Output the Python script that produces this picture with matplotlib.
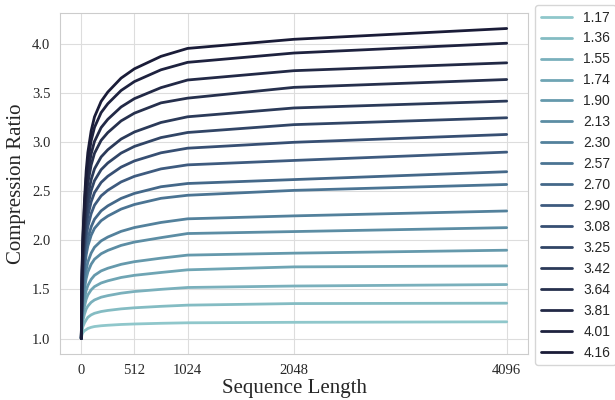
import matplotlib
matplotlib.use("Agg")
import matplotlib.pyplot as plt
import seaborn as sns

# sequence lengths sampled
seq_len = [1, 8, 16, 32, 48, 64, 96, 128, 192, 256, 384, 512, 768, 1024, 2048, 4096]

# compression ratio curves (label = final ratio)
r117 = [1.00, 1.04, 1.06, 1.08, 1.09, 1.102, 1.114, 1.122, 1.130, 1.135, 1.143, 1.148, 1.155, 1.16, 1.165, 1.17]
r136 = [1.00, 1.08, 1.12, 1.16, 1.19, 1.216, 1.241, 1.257, 1.275, 1.286, 1.302, 1.313, 1.328, 1.34, 1.356, 1.36]
r155 = [1.00, 1.12, 1.18, 1.25, 1.30, 1.330, 1.369, 1.393, 1.421, 1.437, 1.462, 1.479, 1.501, 1.52, 1.535, 1.55]
r174 = [1.00, 1.16, 1.24, 1.33, 1.40, 1.444, 1.496, 1.529, 1.566, 1.588, 1.622, 1.644, 1.673, 1.70, 1.73, 1.74]
r190 = [1.00, 1.20, 1.30, 1.41, 1.49, 1.540, 1.603, 1.644, 1.689, 1.716, 1.756, 1.783, 1.819, 1.85, 1.87, 1.90]
r213 = [1.00, 1.25, 1.37, 1.51, 1.61, 1.678, 1.757, 1.808, 1.864, 1.898, 1.949, 1.983, 2.028, 2.07, 2.09, 2.13]
r230 = [1.00, 1.29, 1.43, 1.59, 1.70, 1.780, 1.871, 1.930, 1.995, 2.034, 2.092, 2.131, 2.183, 2.22, 2.25, 2.30]
r257 = [1.00, 1.35, 1.52, 1.71, 1.85, 1.942, 2.052, 2.123, 2.201, 2.248, 2.319, 2.366, 2.429, 2.46, 2.51, 2.57]
r270 = [1.00, 1.37, 1.56, 1.77, 1.92, 2.020, 2.139, 2.216, 2.301, 2.352, 2.428, 2.479, 2.547, 2.58, 2.62, 2.70]
r290 = [1.00, 1.42, 1.63, 1.86, 2.03, 2.140, 2.273, 2.359, 2.454, 2.511, 2.596, 2.653, 2.729, 2.77, 2.815, 2.90]
r308 = [1.00, 1.46, 1.69, 1.94, 2.12, 2.248, 2.394, 2.487, 2.591, 2.654, 2.747, 2.810, 2.893, 2.94, 3.00, 3.08]
r325 = [1.00, 1.50, 1.74, 2.01, 2.22, 2.350, 2.508, 2.609, 2.721, 2.789, 2.890, 2.958, 3.048, 3.10, 3.18, 3.25]
r342 = [1.00, 1.53, 1.80, 2.09, 2.31, 2.452, 2.621, 2.730, 2.851, 2.924, 3.033, 3.105, 3.202, 3.26, 3.35, 3.42]
r364 = [1.00, 1.58, 1.87, 2.19, 2.43, 2.584, 2.769, 2.888, 3.020, 3.099, 3.218, 3.297, 3.402, 3.45, 3.56, 3.64]
r381 = [1.00, 1.62, 1.93, 2.27, 2.52, 2.686, 2.883, 3.009, 3.150, 3.234, 3.360, 3.445, 3.557, 3.635, 3.73, 3.81]
r401 = [1.00, 1.66, 1.99, 2.36, 2.63, 2.806, 3.017, 3.152, 3.303, 3.393, 3.528, 3.619, 3.739, 3.815, 3.91, 4.01]
r416 = [1.00, 1.70, 2.04, 2.42, 2.71, 2.896, 3.117, 3.259, 3.417, 3.512, 3.654, 3.749, 3.876, 3.957, 4.05, 4.16]

labels = ["1.17", "1.36", "1.55", "1.74", "1.90", "2.13", "2.30", "2.57", "2.70",
          "2.90", "3.08", "3.25", "3.42", "3.64", "3.81", "4.01", "4.16"]
curves = [r117, r136, r155, r174, r190, r213, r230, r257, r270,
          r290, r308, r325, r342, r364, r381, r401, r416]

xticks = [0, 512, 1024, 2048, 4096]

sns.set_style("whitegrid", {"grid.color": "#dddddd", "axes.edgecolor": "#cccccc"})
plt.rcParams['font.family'] = ['serif']
plt.rcParams['font.serif'] = ['Liberation Serif', 'DejaVu Serif']

colors = sns.blend_palette(["#8fc7cb", "#6da3b3", "#4f7c99", "#3a5479", "#27324f", "#1a1c38"],
                           len(curves))

fig = plt.figure(figsize=(6.15, 4), dpi=100)
ax = fig.add_axes([0.0976, 0.115, 0.7609, 0.8525])

for vals, lab, c in zip(curves, labels, colors):
    ax.plot(seq_len, vals, color=c, lw=2, label=lab)

ax.set_xticks(xticks)
ax.set_xticklabels([str(t) for t in xticks])
ax.set_yticks([1.0, 1.5, 2.0, 2.5, 3.0, 3.5, 4.0])
ax.set_yticklabels(["1.0", "1.5", "2.0", "2.5", "3.0", "3.5", "4.0"])
ax.tick_params(labelsize=10.5, colors="#262626")
ax.set_xlabel("Sequence Length", fontsize=15, labelpad=2)
ax.set_ylabel("Compression Ratio", fontsize=15)

ax.legend(loc="upper left", bbox_to_anchor=(1.015, 1.0235), borderaxespad=0,
          handlelength=2.28, prop={"family": "Liberation Sans", "size": 10})

fig.savefig("out.png", dpi=100)
